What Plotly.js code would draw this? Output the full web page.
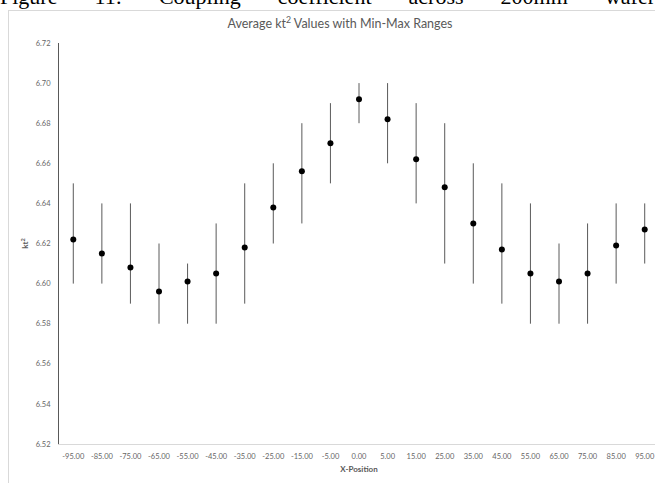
<!DOCTYPE html>
<html>
<head>
<meta charset="utf-8">
<script src="https://cdn.plot.ly/plotly-3.0.1.min.js"></script>
<style>
  html, body { margin:0; padding:0; width:655px; height:483px; overflow:hidden; background:#fff; }
  #cap { position:absolute; left:0; top:-14px; width:655px; display:flex; justify-content:space-between;
         font-family:"Liberation Serif","Times New Roman",serif; font-size:22px; line-height:22px; color:#000; white-space:nowrap; }
  #frame { position:absolute; left:8px; top:10px; width:700px; height:490px; border:1px solid #d9d9d9; pointer-events:none; }
  #chart { position:absolute; left:0; top:0; width:672px; height:483px; }
</style>
</head>
<body>
<div id="cap"><span>Figure</span><span>11:</span><span>Coupling</span><span>coefficient</span><span>across</span><span>200mm</span><span>wafer</span></div>
<div id="chart"></div>
<div id="frame"></div>
<script>
const categories = ["-95.00","-85.00","-75.00","-65.00","-55.00","-45.00","-35.00","-25.00","-15.00","-5.00",
  "0.00","5.00","15.00","25.00","35.00","45.00","55.00","65.00","75.00","85.00","95.00"];
const avgValues = [6.622,6.615,6.608,6.596,6.601,6.605,6.618,6.638,6.656,6.670,
  6.692,6.682,6.662,6.648,6.630,6.617,6.605,6.601,6.605,6.619,6.627];
const maxValues = [6.65,6.64,6.64,6.62,6.61,6.63,6.65,6.66,6.68,6.69,
  6.70,6.70,6.69,6.68,6.66,6.65,6.64,6.62,6.63,6.64,6.64];
const minValues = [6.60,6.60,6.59,6.58,6.58,6.58,6.59,6.62,6.63,6.65,
  6.68,6.66,6.64,6.61,6.60,6.59,6.58,6.58,6.58,6.60,6.61];

const plus = avgValues.map((v,i)=>maxValues[i]-v);
const minus = avgValues.map((v,i)=>v-minValues[i]);

const FONT = "Lato, 'Open Sans', sans-serif";
const trace = {
  type:'scatter', mode:'markers', x:categories, y:avgValues,
  marker:{color:'#000', size:6},
  error_y:{type:'data', symmetric:false, array:plus, arrayminus:minus, color:'#5a5a5a', thickness:1, width:0},
  hoverinfo:'none'
};
const layout = {
  width:672, height:483,
  margin:{l:59, r:13, t:43, b:39, pad:0},
  paper_bgcolor:'rgba(0,0,0,0)', plot_bgcolor:'rgba(0,0,0,0)',
  showlegend:false,
  title:{text:'Average kt<sup>2</sup> Values with Min-Max Ranges', x:340/672, xref:'container', xanchor:'center',
         y:1-24/483, yref:'container', yanchor:'middle', font:{family:FONT, size:12.5, color:'#595959'}},
  xaxis:{type:'category', range:[-0.5,20.5], showgrid:false, zeroline:false,
         showline:true, linecolor:'#d9d9d9', linewidth:1, ticks:'', ticklabelstandoff:5,
         tickangle:0, tickfont:{family:FONT, size:7.5, color:'#666666'},
         title:{text:'<b>X-Position</b>', standoff:6, font:{family:FONT, size:8, color:'#595959'}}},
  yaxis:{range:[6.52,6.72], dtick:0.02, tick0:6.52, tickformat:'.2f', showgrid:false, zeroline:false,
         showline:true, linecolor:'#595959', linewidth:1, ticks:'', ticklabelstandoff:6,
         tickfont:{family:FONT, size:7.5, color:'#666666'},
         title:{text:'<b>kt<sup>2</sup></b>', standoff:5, font:{family:FONT, size:8, color:'#595959'}}}
};
Plotly.newPlot('chart',[trace],layout,{displayModeBar:false, staticPlot:true});
</script>
</body>
</html>
